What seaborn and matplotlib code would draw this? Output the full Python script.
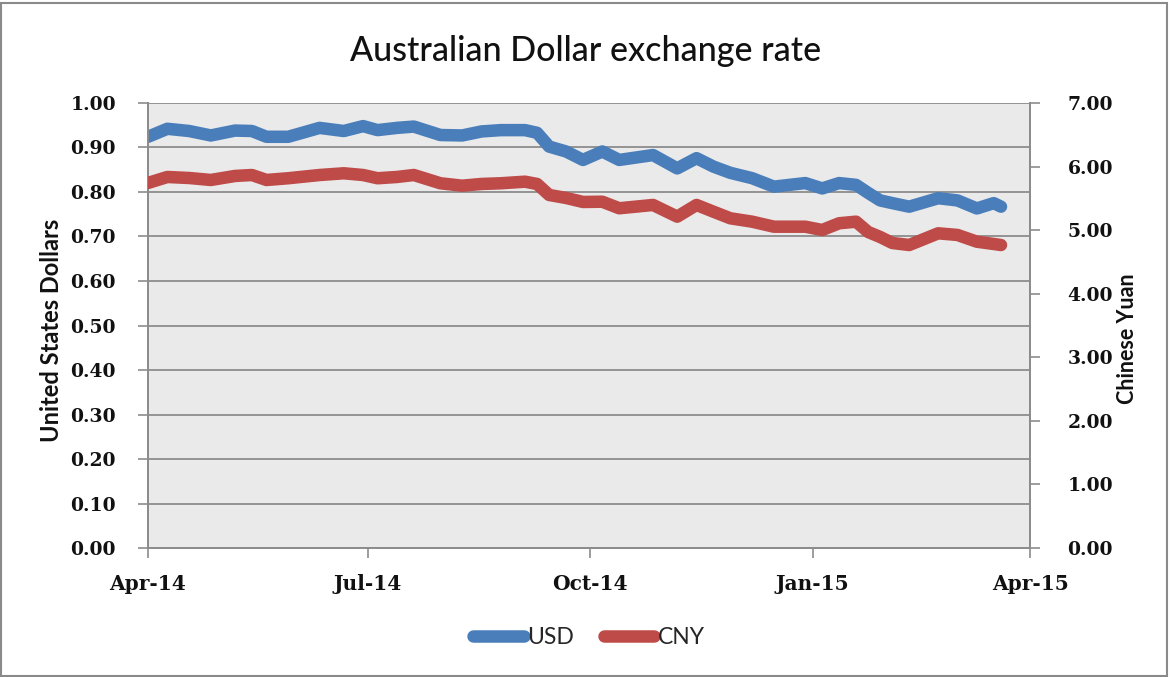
import matplotlib
matplotlib.use("Agg")
import matplotlib.pyplot as plt
import matplotlib.dates as mdates
from matplotlib.lines import Line2D
from matplotlib.patches import Rectangle
import pandas as pd
import seaborn as sns

# Exchange rate observations (1 AUD in USD / CNY)
dates = [
    "2014-04-01", "2014-04-09", "2014-04-18", "2014-04-27", "2014-05-07",
    "2014-05-14", "2014-05-20", "2014-05-29", "2014-06-11", "2014-06-21",
    "2014-06-29", "2014-07-05", "2014-07-13", "2014-07-20", "2014-07-31",
    "2014-08-09", "2014-08-17", "2014-08-25", "2014-09-04", "2014-09-09",
    "2014-09-14", "2014-09-21", "2014-09-28", "2014-10-06", "2014-10-13",
    "2014-10-27", "2014-11-06", "2014-11-14", "2014-11-21", "2014-11-28",
    "2014-12-07", "2014-12-16", "2014-12-29", "2015-01-05", "2015-01-12",
    "2015-01-19", "2015-01-24", "2015-01-29", "2015-02-03", "2015-02-10",
    "2015-02-22", "2015-03-02", "2015-03-10", "2015-03-17", "2015-03-20",
]
usd = [
    0.924, 0.942, 0.937, 0.927, 0.938,
    0.937, 0.924, 0.924, 0.944, 0.937,
    0.948, 0.939, 0.944, 0.947, 0.928,
    0.927, 0.936, 0.939, 0.939, 0.933,
    0.902, 0.891, 0.872, 0.891, 0.872,
    0.883, 0.853, 0.876, 0.857, 0.843,
    0.831, 0.812, 0.820, 0.808, 0.820,
    0.816, 0.798, 0.781, 0.775, 0.767,
    0.786, 0.781, 0.763, 0.775, 0.767,
]
cny = [
    5.742, 5.836, 5.820, 5.789, 5.852,
    5.867, 5.789, 5.816, 5.867, 5.894,
    5.867, 5.816, 5.836, 5.867, 5.737,
    5.699, 5.726, 5.737, 5.762, 5.726,
    5.553, 5.506, 5.443, 5.447, 5.344,
    5.396, 5.212, 5.396, 5.290, 5.186,
    5.133, 5.054, 5.054, 5.002, 5.108,
    5.133, 4.971, 4.892, 4.798, 4.766,
    4.950, 4.924, 4.818, 4.782, 4.766,
]
x_ticks = ["2014-04-01", "2014-07-01", "2014-10-01", "2015-01-01", "2015-04-01"]

df = pd.DataFrame({"date": pd.to_datetime(dates), "USD": usd, "CNY": cny})

BLUE = "#4A7EBB"
RED = "#BE4B48"
GRID = "#8C8C8C"
TEXT = "#111111"
TICK_FAMILY = "DejaVu Serif"
LABEL_FONT = ["Lato", "DejaVu Sans"]
LW = 9

sns.set_theme(style="white")
plt.rcParams["font.family"] = LABEL_FONT

fig = plt.figure(figsize=(11.71, 6.77), dpi=100)
ax = fig.add_axes([0.1264, 0.1905, 0.7532, 0.6574])
ax2 = ax.twinx()

ax.set_facecolor("#EAEAEA")
ax.set_zorder(ax2.get_zorder() - 1)
ax2.patch.set_visible(False)

sns.lineplot(data=df, x="date", y="USD", ax=ax, color=BLUE, linewidth=LW,
             solid_capstyle="round", solid_joinstyle="round", zorder=3)
sns.lineplot(data=df, x="date", y="CNY", ax=ax2, color=RED, linewidth=LW,
             solid_capstyle="round", solid_joinstyle="round", zorder=3)

# Axes ranges and ticks
ax.set_xlim(pd.Timestamp(x_ticks[0]), pd.Timestamp(x_ticks[-1]))
ax.set_ylim(0, 1.0)
ax2.set_ylim(0, 7.0)
ax.set_yticks([i / 10 for i in range(11)])
ax2.set_yticks(list(range(8)))
ax.set_xticks(pd.to_datetime(x_ticks))
ax.xaxis.set_major_formatter(mdates.DateFormatter("%b-%y"))
ax.yaxis.set_major_formatter(matplotlib.ticker.FormatStrFormatter("%.2f"))
ax2.yaxis.set_major_formatter(matplotlib.ticker.FormatStrFormatter("%.2f"))

ax.grid(axis="y", color=GRID, linewidth=1.3)
ax.set_axisbelow(True)

for a in (ax, ax2):
    for side in ("top", "right", "left", "bottom"):
        a.spines[side].set_color(GRID)
        a.spines[side].set_linewidth(1.3)
    a.spines["top"].set_visible(False)

ax.tick_params(axis="y", direction="out", length=7, width=1.2, color=GRID,
               pad=16, left=True)
ax.tick_params(axis="x", direction="out", length=7, width=1.2, color=GRID,
               pad=12, bottom=True)
ax2.tick_params(axis="y", direction="out", length=7, width=1.2, color=GRID,
                pad=20, right=True)

for lbl in ax.get_yticklabels() + ax2.get_yticklabels():
    lbl.set_fontfamily(TICK_FAMILY)
    lbl.set_fontweight("bold")
    lbl.set_fontsize(13.5)
    lbl.set_color(TEXT)
for lbl in ax.get_xticklabels():
    lbl.set_fontfamily(TICK_FAMILY)
    lbl.set_fontweight("bold")
    lbl.set_fontsize(14.5)
    lbl.set_color(TEXT)

ax.set_xlabel("")
ax.set_ylabel("United States Dollars", fontsize=17, fontweight="bold",
              color=TEXT)
ax.yaxis.set_label_coords(-0.096, 0.49)
ax2.set_ylabel("Chinese Yuan", fontsize=15.5, color=TEXT, rotation=90)
ax2.yaxis.label.set_fontweight("bold")
ax2.yaxis.set_label_coords(1.099, 0.47)

fig.text(0.5, 0.925, "Australian Dollar exchange rate", ha="center",
         va="center", fontsize=24.5, fontweight="medium", color=TEXT)

handles = [Line2D([], [], color=BLUE, linewidth=LW, solid_capstyle="round"),
           Line2D([], [], color=RED, linewidth=LW, solid_capstyle="round")]
fig.legend(handles, ["USD", "CNY"], loc="center", bbox_to_anchor=(0.503, 0.058),
           ncol=2, frameon=False, fontsize=16.5, handlelength=2.2,
           handletextpad=0.15, columnspacing=1.3)

# Outer chart border
fig.patches.append(Rectangle((0.001, 0.002), 0.996, 0.994, transform=fig.transFigure,
                             fill=False, edgecolor="#8A8A8A", linewidth=1.5))

fig.savefig("out.png", dpi=100, facecolor="white")
